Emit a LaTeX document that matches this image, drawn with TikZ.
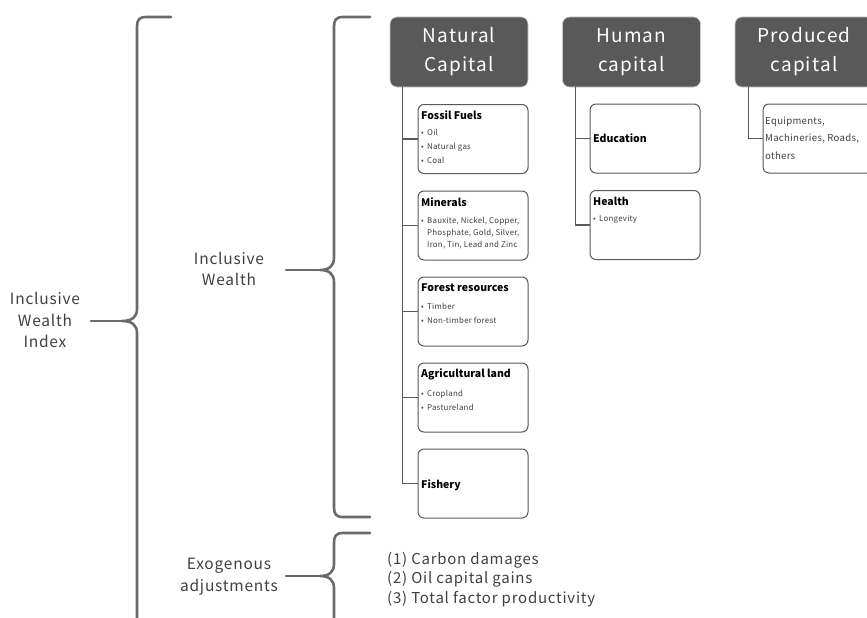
\documentclass[tikz,border=0pt]{standalone}
\usepackage{fontspec}
\setmainfont{Noto Sans CJK JP}
\newfontfamily\hdrfont[LetterSpace=6]{Noto Sans CJK JP}
\newfontfamily\lblfont[LetterSpace=5]{Noto Sans CJK JP}
\newfontfamily\smfont[LetterSpace=3]{Noto Sans CJK JP}
\definecolor{hdrgray}{HTML}{595959}
\definecolor{lngray}{HTML}{595959}
\definecolor{brgray}{HTML}{6A6A6A}
\definecolor{txtgray}{HTML}{404040}
\newcommand{\bl}[1]{\makebox[6pt][l]{•}#1}
\newcommand{\hi}{\hspace*{6pt}}
\begin{document}
\begin{tikzpicture}[x=1pt,y=-1pt,
  hdrbox/.style={fill=hdrgray, draw=gray!40, line width=0.6pt, rounded corners=7pt, text=white,
    minimum width=138pt, minimum height=70pt, inner sep=0pt, align=center,
    font=\hdrfont\fontsize{19}{29}\selectfont},
  childbox/.style={draw=lngray, line width=1pt, fill=white, rounded corners=6pt,
    minimum width=110pt, minimum height=69pt, inner sep=0pt},
  ttl/.style={inner sep=0pt, anchor=west, text=black, font=\bfseries\fontsize{10.5}{12}\selectfont},
  bul/.style={inner sep=0pt, anchor=north west, align=left, text=txtgray, font=\smfont\fontsize{7.9}{14}\selectfont},
  conn/.style={draw=lngray, line width=1.4pt},
  brace/.style={draw=brgray, line width=2.6pt, line cap=round},
  lbl/.style={inner sep=0pt, align=center, text=txtgray, font=\lblfont\fontsize{15.5}{21.5}\selectfont}
]
\useasboundingbox (0,0) rectangle (867,618);

% header boxes
\node[hdrbox] (nc) at (459,52) {Natural\\Capital};
\node[hdrbox] (hc) at (631.5,52) {Human\\capital};
\node[hdrbox] (pc) at (804,52) {Produced\\capital};

% natural capital children
\node[childbox] (ff) at (473,139) {};
\node[childbox] (mi) at (473,225.5) {};
\node[childbox] (fr) at (473,311.5) {};
\node[childbox] (ag) at (473,397.5) {};
\node[childbox] (fi) at (473,483.5) {};

\node[ttl] (ff-t) at (421,115) {Fossil Fuels};
\node[bul] (ff-b) at (421,129.5) {\bl{Oil}\\\bl{Natural gas}\\\bl{Coal}};
\node[ttl] (mi-t) at (421,202) {Minerals};
\node[bul, font=\smfont\fontsize{7.9}{12}\selectfont] (mi-b) at (421,217) {\bl{Bauxite, Nickel, Copper,}\\\hi Phosphate, Gold, Silver,\\\hi Iron, Tin, Lead and Zinc};
\node[ttl] (fr-t) at (421,288) {Forest resources};
\node[bul] (fr-b) at (421,303.5) {\bl{Timber}\\\bl{Non-timber forest}};
\node[ttl] (ag-t) at (421,374) {Agricultural land};
\node[bul] (ag-b) at (421,390.5) {\bl{Cropland}\\\bl{Pastureland}};
\node[ttl] (fi-t) at (421,485) {Fishery};

% human capital children
\node[childbox] (ed) at (645,138.5) {};
\node[childbox] (he) at (645,225) {};
\node[ttl] (ed-t) at (593,138) {Education};
\node[ttl] (he-t) at (593,201) {Health};
\node[bul] (he-b) at (593,215.5) {\bl{Longevity}};

% produced capital child
\node[childbox] (eq) at (818,138.5) {};
\node[inner sep=0pt, anchor=west, align=left, text=txtgray, font=\smfont\fontsize{9.6}{17.5}\selectfont] (eq-t) at (765,138) {Equipments,\\Machineries, Roads,\\others};

% connectors
\foreach \c in {ff,mi,fr,ag,fi}
  \draw[conn] ([xshift=13pt]nc.south west) |- (\c.west);
\foreach \c in {ed,he}
  \draw[conn] ([xshift=13pt]hc.south west) |- (\c.west);
\draw[conn] ([xshift=14pt]pc.south west) |- (eq.west);

% labels
\node[lbl] (iwi) at (45,320) {Inclusive\\Wealth\\Index};
\node[lbl] (iw) at (229,269) {Inclusive\\Wealth};
\node[lbl] (ex) at (229,576.5) {Exogenous\\adjustments};
\node[inner sep=0pt, anchor=north west, align=left, text=txtgray, font=\lblfont\fontsize{15}{19.5}\selectfont] (adj) at (387,552) {(1) Carbon damages\\(2) Oil capital gains\\(3) Total factor productivity};

% braces
\coordinate (t1) at (122,321);
\draw[brace] (171,17) -- (146,17) .. controls (139,17) and (137,20) .. (137,27) -- (137,309)
  .. controls (137,317) and (132,321) .. (t1) .. controls (132,321) and (137,325) .. (137,333) -- (137,630);
\draw[brace] (t1) -- (91,321);

\coordinate (t2) at (320,270);
\draw[brace] (370,17) -- (343,17) .. controls (336,17) and (334,20) .. (334,27) -- (334,258)
  .. controls (334,266) and (329,270) .. (t2) .. controls (329,270) and (334,274) .. (334,282)
  -- (334,507) .. controls (334,514) and (336,517) .. (343,517) -- (370,517);
\draw[brace] (t2) -- (286,270);

\coordinate (t3) at (320,576);
\draw[brace] (370,533) -- (343,533) .. controls (336,533) and (334,536) .. (334,543) -- (334,564)
  .. controls (334,572) and (329,576) .. (t3) .. controls (329,576) and (334,580) .. (334,588) -- (334,630);
\draw[brace] (t3) -- (286,576);
\end{tikzpicture}
\end{document}
